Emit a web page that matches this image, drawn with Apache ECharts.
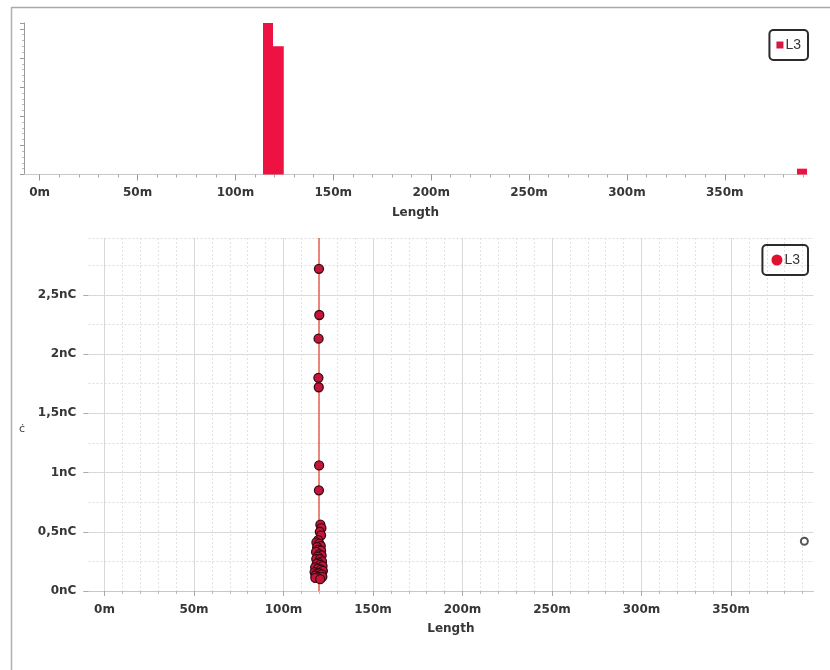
<!DOCTYPE html>
<html>
<head>
<meta charset="utf-8">
<script src="https://cdn.jsdelivr.net/npm/echarts@6/dist/echarts.min.js"></script>
<style>html,body{margin:0;padding:0;background:#fff}#c{width:830px;height:670px}</style>
</head>
<body>
<div id="c"></div>
<script>
// ---- data ----
const seriesName = 'L3';
// histogram bins: [binStart (m), binEnd (m), count]
const histBins = [
  [114.1, 119.2, 26],
  [119.2, 124.7, 22],
  [386.9, 392.0, 1]
];
// scatter points: [length (m), charge (nC)]
const upperPoints = [
  [119.8, 2.72], [120.0, 2.33], [119.6, 2.13], [119.5, 1.80], [119.7, 1.72],
  [119.9, 1.06], [119.8, 0.85]
];
const clusterPoints = [
  [120.6, 0.56], [121.2, 0.53], [120.3, 0.50], [121.0, 0.47],
  [119.4, 0.43], [118.4, 0.41], [120.0, 0.40], [120.8, 0.38], [118.8, 0.37],
  [119.6, 0.35], [121.0, 0.34], [118.2, 0.33], [120.0, 0.31], [121.3, 0.30],
  [119.1, 0.29], [118.3, 0.27], [120.4, 0.27], [121.5, 0.25], [119.6, 0.24],
  [118.6, 0.23], [120.6, 0.22], [121.8, 0.21], [117.7, 0.20], [119.3, 0.19],
  [120.9, 0.18], [122.0, 0.17], [117.4, 0.16], [118.8, 0.15], [120.1, 0.15],
  [121.4, 0.14], [117.9, 0.13], [119.5, 0.12], [121.7, 0.12], [117.8, 0.11],
  [120.5, 0.10]
];
const outlierPoint = [391, 0.42];
const markerLength = 119.8;
const xLabelValues = [0, 50, 100, 150, 200, 250, 300, 350];
const xMinorValues = [0,10,20,30,40,50,60,70,80,90,100,110,120,130,140,150,160,170,180,190,200,210,220,230,240,250,260,270,280,290,300,310,320,330,340,350,360,370,380,390];
const yTickValues = [0, 0.5, 1, 1.5, 2, 2.5];

// ---- chart ----
const FONT = 'DejaVu Sans';
const TXT = '#363636';
const BAR = '#ee1242';
const DOT = '#c4163b';
const chart = echarts.init(document.getElementById('c'), null, {renderer: 'canvas'});

const scatterData = upperPoints.concat(clusterPoints).map(p => ({value: p}));
scatterData.push({value: outlierPoint, symbolSize: 7,
  itemStyle: {color: '#fff', borderColor: '#555', borderWidth: 2}});

const nC = v => String(Math.round(v * 10) / 10).replace('.', ',') + 'nC';
const lbl = {fontSize: 12, fontWeight: 'bold', color: TXT, fontFamily: FONT};

chart.setOption({
  backgroundColor: '#fff',
  animation: false,
  textStyle: {fontFamily: FONT},
  graphic: [
    {type: 'line', shape: {x1: 11.5, y1: 7.5, x2: 830, y2: 7.5}, style: {stroke: '#a8a8a8', lineWidth: 1.5}},
    {type: 'line', shape: {x1: 11.5, y1: 7, x2: 11.5, y2: 670}, style: {stroke: '#b0b0b0', lineWidth: 1.5}},
    {type: 'text', left: 19, top: 424, style: {text: 'ċ', fontSize: 11, fill: '#444', fontFamily: FONT}}
  ],
  legend: [
    {data: [{name: seriesName, icon: 'rect', itemStyle: {color: '#d31a42'}}],
     right: 22, top: 30, itemWidth: 7, itemHeight: 7, padding: [8, 7, 8, 7],
     borderColor: '#2b2b2b', borderWidth: 2, borderRadius: 4, selectedMode: false,
     textStyle: {fontSize: 14, color: TXT, fontFamily: 'Liberation Sans', padding: [0, 0, 0, -3]}},
    {data: [{name: seriesName, icon: 'circle', itemStyle: {color: '#e0102e'}}],
     right: 22, top: 245, itemWidth: 11, itemHeight: 11, padding: [8, 8, 8, 9],
     borderColor: '#2b2b2b', borderWidth: 2, borderRadius: 4, selectedMode: false,
     textStyle: {fontSize: 14, color: TXT, fontFamily: 'Liberation Sans', padding: [0, 0, 0, -3]}}
  ],
  grid: [
    {left: 24, right: 23, top: 23, bottom: 495.5},
    {left: 88.4, right: 16.7, top: 238, bottom: 79}
  ],
  xAxis: [
    {gridIndex: 0, type: 'value', min: -8, max: 392, position: 'bottom',
     name: 'Length', nameLocation: 'middle', nameGap: 32, nameTextStyle: lbl,
     axisLine: {show: true, onZero: false, lineStyle: {color: '#c8c8c8'}},
     axisTick: {show: true, customValues: xMinorValues, length: 3, lineStyle: {color: '#aaa'}},
     axisLabel: Object.assign({customValues: xLabelValues, formatter: '{value}m', margin: 12}, lbl),
     splitLine: {show: false}},
    {gridIndex: 0, type: 'value', min: -8, max: 392, position: 'bottom',
     axisLine: {show: false, onZero: false},
     axisTick: {show: true, customValues: xLabelValues, length: 6, lineStyle: {color: '#999'}},
     axisLabel: {show: false}, splitLine: {show: false}},
    {gridIndex: 1, type: 'value', min: -9, max: 396, position: 'bottom',
     name: 'Length', nameLocation: 'middle', nameGap: 32, nameTextStyle: lbl,
     axisLine: {show: true, onZero: false, lineStyle: {color: '#c8c8c8'}},
     axisTick: {show: true, customValues: xMinorValues, length: 3, lineStyle: {color: '#bbb'}},
     axisLabel: Object.assign({customValues: xLabelValues, formatter: '{value}m', margin: 13}, lbl),
     splitLine: {show: true, lineStyle: {color: '#e2e2e2', type: [2, 2]}}},
    {gridIndex: 1, type: 'value', min: -9, max: 396, position: 'bottom',
     axisLine: {show: false, onZero: false},
     axisTick: {show: true, customValues: xLabelValues, length: 5, lineStyle: {color: '#aaa'}},
     axisLabel: {show: false},
     splitLine: {show: true, lineStyle: {color: '#d8d8d8', type: 'solid'}}}
  ],
  yAxis: [
    {gridIndex: 0, type: 'value', min: 0, max: 26, interval: 5, position: 'left',
     axisLine: {show: true, onZero: false, lineStyle: {color: '#9a9a9a'}},
     axisTick: {show: true, length: 4, lineStyle: {color: '#999'}},
     minorTick: {show: true, splitNumber: 5, length: 2, lineStyle: {color: '#bbb'}},
     axisLabel: {show: false}, splitLine: {show: false}},
    {gridIndex: 1, type: 'value', min: 0, max: 2.98, position: 'left',
     axisLine: {show: false, onZero: false},
     axisTick: {show: true, customValues: yTickValues, length: 5, lineStyle: {color: '#aaa'}},
     axisLabel: Object.assign({customValues: yTickValues, formatter: nC, margin: 12}, lbl),
     splitLine: {show: true, lineStyle: {color: '#d6d6d6', type: 'solid'}}},
    {gridIndex: 1, type: 'value', min: 0, max: 2.98, interval: 0.25, position: 'left',
     axisLine: {show: false, onZero: false}, axisTick: {show: false}, axisLabel: {show: false},
     splitLine: {show: true, lineStyle: {color: '#dcdcdc', type: [2, 2]}}}
  ],
  series: [
    {name: seriesName, type: 'custom', xAxisIndex: 0, yAxisIndex: 0,
     itemStyle: {color: BAR},
     encode: {x: [0, 1], y: 2},
     data: histBins,
     renderItem: function (params, api) {
       const a = api.coord([api.value(0), api.value(2)]);
       const b = api.coord([api.value(1), 0]);
       return {type: 'rect', shape: {x: a[0], y: a[1], width: b[0] - a[0], height: b[1] - a[1]},
               style: {fill: BAR}};
     }},
    {name: seriesName, type: 'scatter', xAxisIndex: 2, yAxisIndex: 1,
     symbolSize: 9,
     itemStyle: {color: DOT, borderColor: '#3a0a14', borderWidth: 1.3, opacity: 1},
     data: scatterData,
     markLine: {silent: true, symbol: 'none', label: {show: false},
       lineStyle: {color: '#e4624c', width: 1.5, type: 'solid'},
       data: [{xAxis: markerLength}]},
     z: 5}
  ]
});
</script>
</body>
</html>
